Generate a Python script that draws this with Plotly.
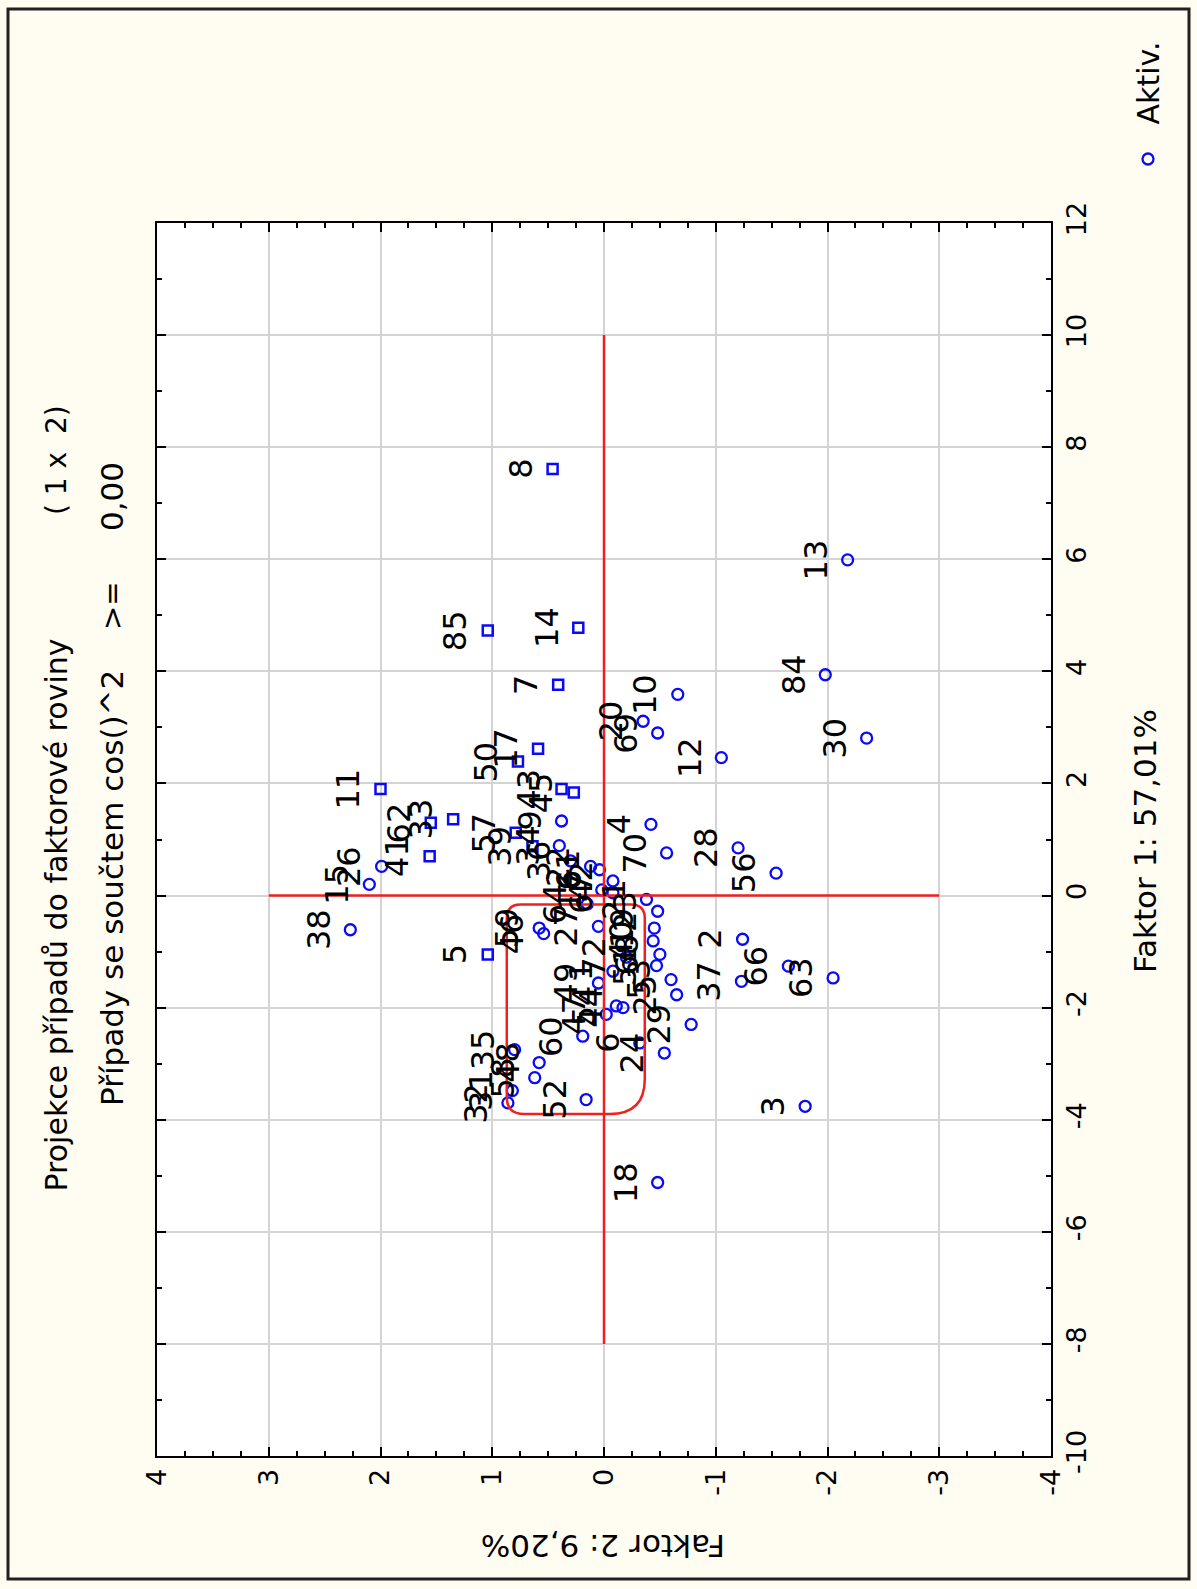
import plotly.graph_objects as go

# Case projections onto the factor plane (Faktor 2 horizontal, Faktor 1 vertical)
sq_labels = ["8", "85", "14", "7", "11", "17", "50", "62", "33", "41", "57", "39", "45", "43", "5"]
sq_f2 = [0.46, 1.04, 0.23, 0.41, 2.00, 0.59, 0.77, 1.55, 1.35, 1.56, 0.79, 0.64, 0.27, 0.38, 1.04]
sq_f1 = [7.61, 4.73, 4.78, 3.76, 1.90, 2.62, 2.39, 1.30, 1.36, 0.70, 1.12, 0.88, 1.84, 1.90, -1.05]

ci_labels = ["15", "26", "38", "13", "84", "10", "20", "69", "30", "12", "4", "70", "28", "56",
             "9", "34", "61", "42", "2", "37", "66", "63", "29", "24", "53", "25", "3", "18",
             "59", "46", "32", "31", "35", "48", "58", "52", "27", "49", "60", "47", "40", "6",
             "54", "44", "1", "21", "23", "19", "16", "67", "22", "36", "64", "68", "51", "72"]
ci_f2 = [2.10, 1.99, 2.27, -2.18, -1.98, -0.66, -0.35, -0.48, -2.35, -1.05, -0.42, -0.56, -1.20, -1.54,
         0.38, 0.40, 0.04, -0.08, -1.24, -1.23, -1.65, -2.05, -0.78, -0.54, -0.60, -0.65, -1.80, -0.48,
         0.58, 0.54, 0.86, 0.82, 0.80, 0.58, 0.62, 0.16, 0.05, 0.05, 0.19, -0.02, -0.44, -0.32,
         -0.11, -0.17, -0.08, -0.38, -0.48, -0.45, 0.02, -0.08, 0.12, 0.30, 0.15, -0.50, -0.47, -0.20]
ci_f1 = [0.20, 0.52, -0.61, 5.99, 3.94, 3.59, 3.11, 2.90, 2.81, 2.46, 1.27, 0.76, 0.85, 0.40,
         1.33, 0.89, 0.46, 0.26, -0.78, -1.53, -1.26, -1.47, -2.30, -2.81, -1.50, -1.77, -3.76, -5.12,
         -0.58, -0.68, -3.70, -3.48, -2.75, -2.98, -3.25, -3.64, -0.55, -1.56, -2.51, -2.12, -0.81, -2.63,
         -1.97, -2.00, -1.35, -0.07, -0.28, -0.58, 0.10, 0.05, 0.52, 0.62, -0.15, -1.05, -1.25, -1.10]

f2_ticks = [4, 3, 2, 1, 0, -1, -2, -3, -4]
f1_ticks = [-10, -8, -6, -4, -2, 0, 2, 4, 6, 8, 10, 12]

title_line1 = "Projekce případů do faktorové roviny"
title_line1b = "( 1 x  2)"
title_line2 = "Případy se součtem cos()^2"
title_line2b = ">="
title_line2c = "0,00"
f1_title = "Faktor 1: 57,01%"
f2_title = "Faktor 2: 9,20%"
legend_name = "Aktiv."

FONT = "DejaVu Sans"
BLUE = "#0A0AF5"
RED = "#F02020"

W, H = 1197, 1589
ML, MR, MT, MB = 157, 146, 223, 133
PW, PH = W - ML - MR, H - MT - MB


def px(x):
    return (x - ML) / PW


def py(y):
    return (H - MB - y) / PH


fig = go.Figure()

fig.add_trace(go.Scatter(
    x=ci_f2, y=ci_f1, mode="markers", name=legend_name, showlegend=False,
    marker=dict(symbol="circle-open", size=11, color=BLUE, line=dict(width=2.3, color=BLUE)),
))
fig.add_trace(go.Scatter(
    x=sq_f2, y=sq_f1, mode="markers", showlegend=False,
    marker=dict(symbol="square-open", size=10, color=BLUE, line=dict(width=2.5, color=BLUE)),
))

# case numbers, written to the left of each marker
annotations = []
for labs, xs, ys in ((ci_labels, ci_f2, ci_f1), (sq_labels, sq_f2, sq_f1)):
    for lab, xv, yv in zip(labs, xs, ys):
        annotations.append(dict(
            x=xv, y=yv, xref="x", yref="y", text=lab, showarrow=False,
            textangle=-90, xanchor="right", yanchor="middle", xshift=-11,
            font=dict(family=FONT, size=32, color="black"),
        ))

def side_text(text, x, y, size, yanchor="middle", angle=-90, color="black"):
    annotations.append(dict(
        x=px(x), y=py(y), xref="paper", yref="paper", text=text, showarrow=False,
        textangle=angle, xanchor="center", yanchor=yanchor,
        font=dict(family=FONT, size=size, color=color),
    ))

side_text(title_line1, 56, 1194, 30, yanchor="bottom")
side_text(title_line1b, 56, 403, 28, yanchor="top")
side_text(title_line2, 112, 1108, 31, yanchor="bottom")
side_text(title_line2b, 112, 606, 29)
side_text(title_line2c, 112, 497, 31)
side_text(f1_title, 1145, 841, 31)
side_text(f2_title, 603, 1546, 31, angle=180)
side_text(legend_name, 1148, 127, 30, yanchor="bottom")

shapes = []
# outer frame of the page
shapes.append(dict(type="rect", xref="paper", yref="paper",
                   x0=px(8), x1=px(1189), y0=py(1579), y1=py(9),
                   line=dict(color="#202020", width=3), layer="below"))
# legend symbol
shapes.append(dict(type="circle", xref="paper", yref="paper",
                   x0=px(1142.5), x1=px(1153.5), y0=py(164.5), y1=py(153.5),
                   line=dict(color=BLUE, width=2.3)))
# reference cross
shapes.append(dict(type="line", xref="x", yref="y", x0=3, x1=-3, y0=0, y1=0,
                   line=dict(color=RED, width=2.5)))
shapes.append(dict(type="line", xref="x", yref="y", x0=0, x1=0, y0=-8, y1=10,
                   line=dict(color=RED, width=2.5)))

# rounded rectangle around the central group
xl, xr, yt, yb = 0.87, -0.365, -0.16, -3.90
ux, uy = 1 / (PW / 8), 1 / (PH / 22)
rTL, rTR, rBL, rBR = 14, 14, 17, 35
path = (
    f"M {xl} {yt - rTL * uy} "
    f"L {xl} {yb + rBL * uy} Q {xl} {yb} {xl - rBL * ux} {yb} "
    f"L {xr + rBR * ux} {yb} Q {xr} {yb} {xr} {yb + rBR * uy} "
    f"L {xr} {yt - rTR * uy} Q {xr} {yt} {xr + rTR * ux} {yt} "
    f"L {xl - rTL * ux} {yt} Q {xl} {yt} {xl} {yt - rTL * uy} Z"
)
shapes.append(dict(type="path", xref="x", yref="y", path=path,
                   line=dict(color=RED, width=2.5)))

fig.update_layout(
    width=W, height=H,
    margin=dict(l=ML, r=MR, t=MT, b=MB, pad=0),
    paper_bgcolor="#FFFCF2", plot_bgcolor="white",
    showlegend=False,
    annotations=annotations, shapes=shapes,
    font=dict(family=FONT, color="black"),
)

fig.update_xaxes(
    range=[4, -4], tickvals=f2_ticks, ticktext=[str(v) for v in f2_ticks],
    tickangle=-90, tickfont=dict(family=FONT, size=27, color="black"),
    ticks="inside", ticklen=9, tickwidth=1.5, tickcolor="black",
    minor=dict(dtick=0.25, tick0=0, ticks="inside", ticklen=5, tickwidth=1.5,
               tickcolor="black", showgrid=False),
    showgrid=True, gridcolor="#D4D4D4", gridwidth=1.8,
    showline=True, linecolor="black", linewidth=2.2, mirror="ticks",
    zeroline=False, fixedrange=True,
)
fig.update_yaxes(
    range=[-10, 12], side="right", tickvals=f1_ticks, ticktext=[str(v) for v in f1_ticks],
    tickangle=-90, tickfont=dict(family=FONT, size=27, color="black"),
    ticks="inside", ticklen=9, tickwidth=1.5, tickcolor="black",
    minor=dict(dtick=1, tick0=0, ticks="inside", ticklen=5, tickwidth=1.5,
               tickcolor="black", showgrid=False),
    showgrid=True, gridcolor="#D4D4D4", gridwidth=1.8,
    showline=True, linecolor="black", linewidth=2.2, mirror="ticks",
    zeroline=False, fixedrange=True,
)

fig.write_html("out.html")
